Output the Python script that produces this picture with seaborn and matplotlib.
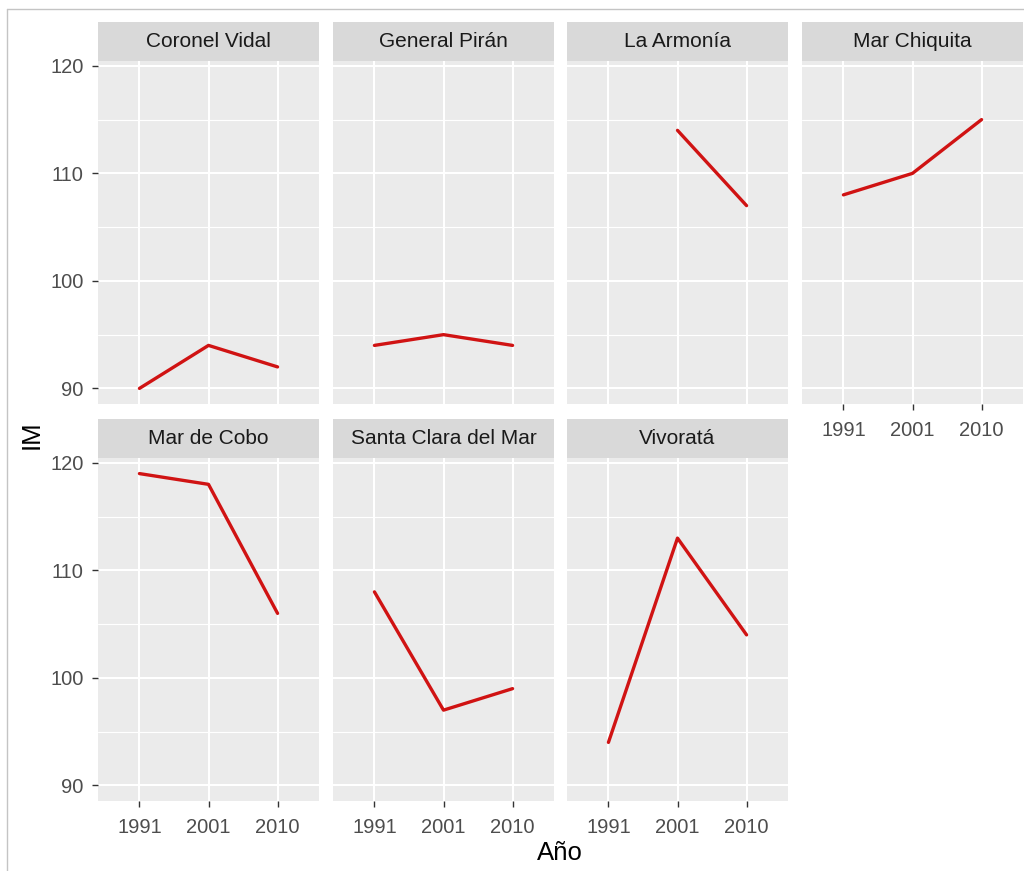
import numpy as np
import pandas as pd
import matplotlib
matplotlib.use("Agg")
import matplotlib.pyplot as plt
import seaborn as sns
from matplotlib.lines import Line2D
from matplotlib.ticker import FixedLocator

# ---- data -------------------------------------------------------------
YEARS = ["1991", "2001", "2010"]
LOCALIDADES = ["Coronel Vidal", "General Pirán", "La Armonía", "Mar Chiquita",
               "Mar de Cobo", "Santa Clara del Mar", "Vivoratá"]
IM_CORONEL_VIDAL = [90, 94, 92]
IM_GENERAL_PIRAN = [94, 95, 94]
IM_LA_ARMONIA = [np.nan, 114, 107]
IM_MAR_CHIQUITA = [108, 110, 115]
IM_MAR_DE_COBO = [119, 118, 106]
IM_SANTA_CLARA = [108, 97, 99]
IM_VIVORATA = [94, 113, 104]
Y_TICKS = [90, 100, 110, 120]
Y_MINOR = [95, 105, 115]

SERIES = [IM_CORONEL_VIDAL, IM_GENERAL_PIRAN, IM_LA_ARMONIA, IM_MAR_CHIQUITA,
          IM_MAR_DE_COBO, IM_SANTA_CLARA, IM_VIVORATA]

rows = []
for loc, vals in zip(LOCALIDADES, SERIES):
    for i, (yr, v) in enumerate(zip(YEARS, vals)):
        rows.append({"Localidad": loc, "Año": yr, "pos": i, "IM": v})
df = pd.DataFrame(rows)

# ---- style ------------------------------------------------------------
sns.set_style("white")
plt.rcParams["font.family"] = ["Liberation Sans", "DejaVu Sans"]

RED = "#D01313"
PANEL_BG = "#EBEBEB"
STRIP_BG = "#D9D9D9"
TICK_COL = "#4D4D4D"

W, H = 1024, 871
g = sns.FacetGrid(df, col="Localidad", col_order=LOCALIDADES, col_wrap=4,
                  sharex=True, sharey=True, height=3, aspect=0.8)
g.map_dataframe(sns.lineplot, x="pos", y="IM", color=RED, linewidth=2.4,
                estimator=None, sort=True)
fig = g.figure
fig.set_size_inches(W / 100, H / 100)

lo = np.nanmin(df["IM"].values)
hi = np.nanmax(df["IM"].values)
pad = 0.05 * (hi - lo)

col_x = [98, 333, 567, 802]
row_top = [22, 419]
pw, sh, ph = 221, 39, 343

for k, (ax, loc) in enumerate(zip(g.axes.flat, LOCALIDADES)):
    r, c = divmod(k, 4)
    x0 = col_x[c]
    top = row_top[r]
    ax.set_position([x0 / W, 1 - (top + sh + ph) / H, pw / W, ph / H])
    ax.set_facecolor(PANEL_BG)
    for s in ax.spines.values():
        s.set_visible(False)
    ax.set_xlim(-0.6, len(YEARS) - 1 + 0.6)
    ax.set_ylim(lo - pad, hi + pad)
    ax.xaxis.set_major_locator(FixedLocator(range(len(YEARS))))
    ax.set_xticklabels(YEARS)
    ax.yaxis.set_major_locator(FixedLocator(Y_TICKS))
    ax.yaxis.set_minor_locator(FixedLocator(Y_MINOR))
    ax.set_yticklabels([str(t) for t in Y_TICKS])
    ax.set_axisbelow(True)
    ax.grid(which="major", color="white", linewidth=1.5)
    ax.grid(which="minor", axis="y", color="white", linewidth=0.8)
    ax.set_xlabel("")
    ax.set_ylabel("")
    ax.set_title("")

    left = (c == 0)
    bottom = (r == 1) or (k + 4 >= len(LOCALIDADES))
    ax.tick_params(axis="y", which="major", left=left, labelleft=left,
                   length=4, width=1, color="#333333", pad=6.3,
                   labelsize=14.5, labelcolor=TICK_COL)
    ax.tick_params(axis="y", which="minor", left=False, length=0)
    ax.tick_params(axis="x", which="major", bottom=bottom, labelbottom=bottom,
                   length=4, width=1, color="#333333", pad=8.0,
                   labelsize=14.5, labelcolor=TICK_COL)

    sax = fig.add_axes([x0 / W, 1 - (top + sh) / H, pw / W, sh / H])
    sax.set_facecolor(STRIP_BG)
    sax.set_xticks([])
    sax.set_yticks([])
    for s in sax.spines.values():
        s.set_visible(False)
    sax.text(0.5, 0.5, loc, ha="center", va="center", fontsize=15,
             color="#1A1A1A", transform=sax.transAxes)

fig.text(560 / W, 1 - 853 / H, "Año", ha="center", va="center",
         fontsize=18.5, color="black")
fig.text(32 / W, 1 - 435 / H, "IM", ha="center", va="center",
         fontsize=18.5, color="black", rotation=90)

fig.add_artist(Line2D([7 / W, 7 / W], [0, 1 - 9 / H], transform=fig.transFigure,
                      color="#C4C4C4", linewidth=1))
fig.add_artist(Line2D([7 / W, 1], [1 - 9 / H, 1 - 9 / H], transform=fig.transFigure,
                      color="#C4C4C4", linewidth=1))

fig.savefig("out.png", dpi=100, facecolor="white")
